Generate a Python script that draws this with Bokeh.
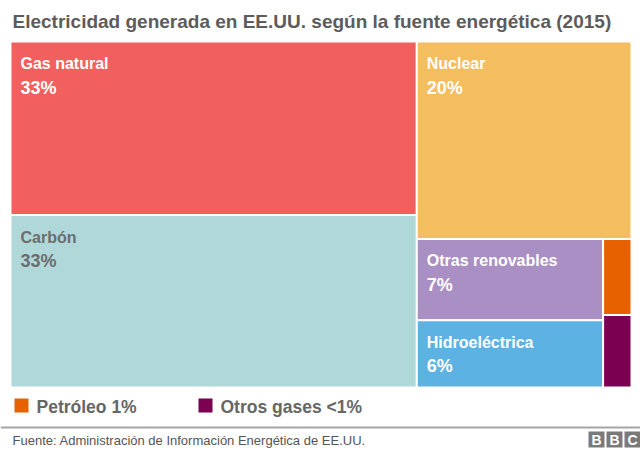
from bokeh.plotting import figure
from bokeh.models import Range1d
from bokeh.embed import file_html
from bokeh.resources import INLINE
from bokeh.core.properties import value

# ---- data ----
names = ["Gas natural", "Carbón", "Nuclear", "Otras renovables", "Hidroeléctrica", "Petróleo", "Otros gases"]
shares = [32.6, 32.4, 19.6, 7.0, 5.8, 1.0, 0.95]
pct_labels = ["33%", "33%", "20%", "7%", "6%", "1%", "<1%"]
colors = ["#f15f5e", "#b0d8d8", "#f4bd5f", "#a98fc3", "#5cb3e3", "#e86100", "#7b0051"]
text_colors = ["#ffffff", "#6b6d70", "#ffffff", "#ffffff", "#ffffff", "#ffffff", "#ffffff"]

title = "Electricidad generada en EE.UU. según la fuente energética (2015)"
source = "Fuente: Administración de Información Energética de EE.UU."

FONT = "Liberation Sans"

p = figure(width=640, height=455, output_backend="svg", toolbar_location=None,
           x_range=Range1d(0, 640), y_range=Range1d(455, 0), min_border=0)
p.axis.visible = False
p.grid.visible = False
p.outline_line_color = None
p.background_fill_color = "white"

# ---- treemap layout (slice and dice) ----
X0, X1, Y0, Y1 = 10.0, 631.0, 41.0, 387.0
W, H = X1 - X0, Y1 - Y0
gas, coal, nuc, oth, hyd, pet, ogs = shares
total = sum(shares)
left = gas + coal
xl = X0 + W * left / total
yg = Y0 + H * gas / left
right = total - left
yn = Y0 + H * nuc / right
bottom = oth + hyd + pet + ogs
xm = xl + (X1 - xl) * (oth + hyd) / bottom
yo = yn + (Y1 - yn) * oth / (oth + hyd)
yp = yn + (Y1 - yn) * pet / (pet + ogs)

lefts = [X0, X0, xl, xl, xl, xm, xm]
rights = [xl, xl, X1, xm, xm, X1, X1]
tops = [Y0, yg, Y0, yn, yo, yn, yp]
bottoms = [yg, Y1, yn, yo, Y1, yp, Y1]

p.quad(left=lefts, right=rights, top=tops, bottom=bottoms,
       fill_color=colors, line_color="white", line_width=2)

big = range(5)
p.text(x=[lefts[i] + 10 for i in big], y=[tops[i] + 22 for i in big],
       text=[names[i] for i in big], text_color=[text_colors[i] for i in big],
       text_font=value(FONT), text_font_style="bold", text_font_size="16px",
       text_baseline="alphabetic")
p.text(x=[lefts[i] + 10 for i in big], y=[tops[i] + 46 for i in big],
       text=[pct_labels[i] for i in big], text_color=[text_colors[i] for i in big],
       text_font=value(FONT), text_font_style="bold", text_font_size="18px",
       text_baseline="alphabetic")

# ---- legend for the small slices ----
leg_x = [14, 198]
p.quad(left=leg_x, right=[x + 14 for x in leg_x], top=[398, 398], bottom=[412, 412],
       fill_color=colors[5:], line_color=None)
p.text(x=[x + 22 for x in leg_x], y=[406, 406],
       text=[names[5] + " " + pct_labels[5], names[6] + " " + pct_labels[6]],
       text_color="#666666", text_font=value(FONT), text_font_style="bold",
       text_font_size="17.5px", text_baseline="alphabetic")

# ---- title ----
p.text(x=[12], y=[21], text=[title], text_color="#5c5c5c", text_font=value(FONT),
       text_font_style="bold", text_font_size="19px", text_baseline="alphabetic")

# ---- footer ----
p.segment(x0=[0], x1=[640], y0=[427], y1=[427], line_color="#a6a6a6", line_width=2)
p.text(x=[12], y=[440], text=[source], text_color="#555555", text_font=value(FONT),
       text_font_size="13px", text_baseline="alphabetic")

bx = [588, 606, 624]
p.quad(left=bx, right=[b + 16 for b in bx], top=[431] * 3, bottom=[447] * 3,
       fill_color="#7a7a7a", line_color=None)
p.text(x=[b + 8 for b in bx], y=[439.5] * 3, text=["B", "B", "C"], text_color="white",
       text_font=value(FONT), text_font_style="bold", text_font_size="14px",
       text_align="center", text_baseline="middle")

open("out.html", "w").write(file_html(p, INLINE))
